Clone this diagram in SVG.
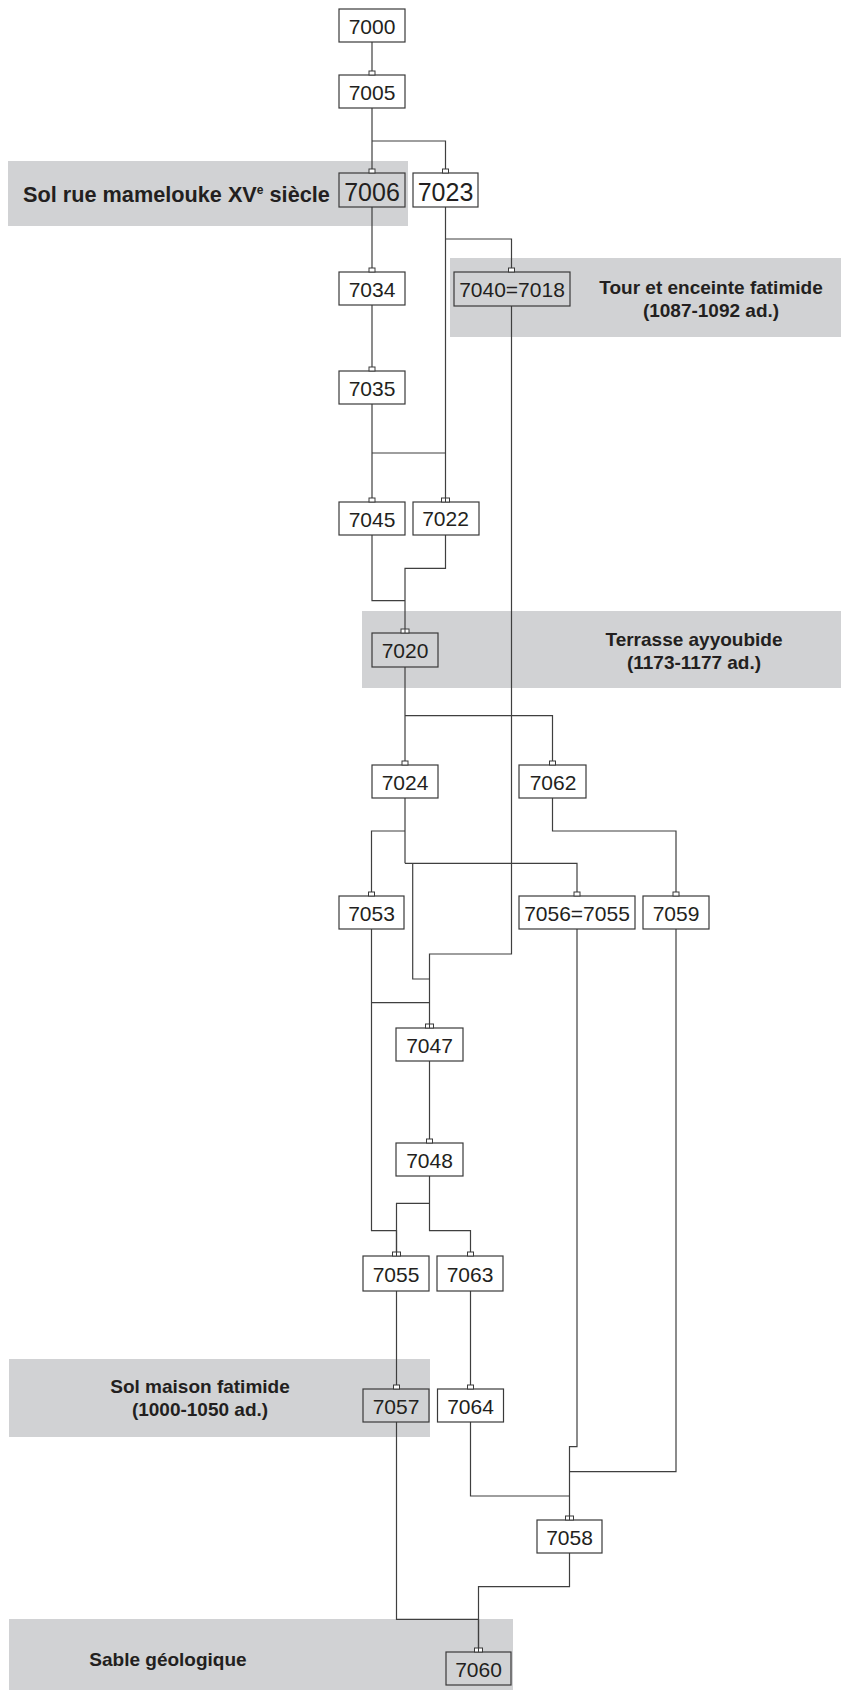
<svg xmlns="http://www.w3.org/2000/svg" width="841" height="1690" viewBox="0 0 841 1690">
<style>
.band{fill:#d1d2d4;stroke:none}
.lbl{font-family:"Liberation Sans",Arial,sans-serif;font-weight:bold;font-size:19px;fill:#231f20;text-anchor:middle}
.box{fill:#ffffff;stroke:#3a3a3a;stroke-width:1.2}
.gbox{fill:#d1d2d4;stroke:#3a3a3a;stroke-width:1.2}
.t{font-family:"Liberation Sans",Arial,sans-serif;font-size:21px;fill:#231f20;text-anchor:middle}
.tb{font-family:"Liberation Sans",Arial,sans-serif;font-size:25px;fill:#231f20;text-anchor:middle}
.c{fill:none;stroke:#3f3f3f;stroke-width:1.2}
.m{fill:#ffffff;stroke:#3a3a3a;stroke-width:1}
</style>
<defs>
<g id="mk"><rect class="m" x="-3" y="-4" width="6" height="4"/></g>
<g id="mk2"><rect class="m" x="-4" y="-4" width="8" height="4"/><line x1="0" y1="-4" x2="0" y2="0" stroke="#3a3a3a" stroke-width="1"/></g>
</defs>

<g id="bands">
<rect class="band" x="8" y="161" width="400" height="65"/>
<rect class="band" x="450" y="258" width="391" height="79"/>
<rect class="band" x="362" y="611" width="479" height="77"/>
<rect class="band" x="9" y="1359" width="421" height="78"/>
<rect class="band" x="9" y="1619" width="504" height="71"/>
</g>

<g id="labels">
<text x="23" y="202" style="font-family:'Liberation Sans',Arial,sans-serif;font-weight:bold;font-size:21.7px;fill:#231f20">Sol rue mamelouke XV<tspan font-size="12" dy="-8">e</tspan><tspan dy="8"> siècle</tspan></text>
<text class="lbl" x="711" y="294">Tour et enceinte fatimide</text>
<text class="lbl" x="711" y="317">(1087-1092 ad.)</text>
<text class="lbl" x="694" y="646">Terrasse ayyoubide</text>
<text class="lbl" x="694" y="669">(1173-1177 ad.)</text>
<text class="lbl" x="200" y="1393">Sol maison fatimide</text>
<text class="lbl" x="200" y="1416">(1000-1050 ad.)</text>
<text class="lbl" x="168" y="1666">Sable géologique</text>
</g>

<g id="connectors">
<path class="c" d="M372 42V71"/>
<path class="c" d="M372 108V169M372 141H445.5V169"/>
<path class="c" d="M372 207V268"/>
<path class="c" d="M445.5 207V498M445.5 239H511.5V268"/>
<path class="c" d="M372 305V367"/>
<path class="c" d="M372 404V498M372 453H445.5"/>
<path class="c" d="M511.5 306V954H429.5V1024"/>
<path class="c" d="M372 535V600.7H405"/>
<path class="c" d="M445.5 535V568.3H405V629"/>
<path class="c" d="M405 667V761M405 715.7H552.5V761"/>
<path class="c" d="M405 798V863.3M405 831H371.5V892M405 863.3H577V892M412.7 863.3V979H429.5"/>
<path class="c" d="M552.5 798V831H676V892"/>
<path class="c" d="M371.5 929V1230.7H396.5V1252M371.5 1002.7H429.5"/>
<path class="c" d="M429.5 1061V1139"/>
<path class="c" d="M429.5 1176V1230.7H470.5V1252M429.5 1203.3H396.5V1252"/>
<path class="c" d="M396.5 1291V1385"/>
<path class="c" d="M470.5 1291V1385"/>
<path class="c" d="M396.5 1422V1619.3H478.5V1648"/>
<path class="c" d="M470.5 1422V1496H569.5"/>
<path class="c" d="M577 929V1446.7H569.5V1516"/>
<path class="c" d="M676 929V1471.7H569.5"/>
<path class="c" d="M569.5 1553V1586.7H478.5V1648"/>
</g>

<g id="n7000"><rect class="box" x="339" y="9" width="66" height="33"/><text class="t" x="372" y="34">7000</text></g>
<g id="n7005"><rect class="box" x="339" y="75" width="66" height="33"/><use href="#mk" x="372" y="75"/><text class="t" x="372" y="100">7005</text></g>
<g id="n7006"><rect class="gbox" x="339" y="173" width="66" height="34"/><use href="#mk" x="372" y="173"/><text class="tb" x="372" y="201">7006</text></g>
<g id="n7023"><rect class="box" x="413" y="173" width="65" height="34"/><use href="#mk" x="445.5" y="173"/><text class="tb" x="445.5" y="201">7023</text></g>
<g id="n7034"><rect class="box" x="339" y="272" width="66" height="33"/><use href="#mk" x="372" y="272"/><text class="t" x="372" y="297">7034</text></g>
<g id="n7040"><rect class="gbox" x="454" y="272" width="116" height="34"/><use href="#mk" x="511.5" y="272"/><text class="t" x="512" y="297">7040=7018</text></g>
<g id="n7035"><rect class="box" x="339" y="371" width="66" height="33"/><use href="#mk" x="372" y="371"/><text class="t" x="372" y="396">7035</text></g>
<g id="n7045"><rect class="box" x="339" y="502" width="66" height="33"/><use href="#mk" x="372" y="502"/><text class="t" x="372" y="527">7045</text></g>
<g id="n7022"><rect class="box" x="413" y="502" width="66" height="33"/><use href="#mk2" x="445.5" y="502"/><text class="t" x="445.5" y="526">7022</text></g>
<g id="n7020"><rect class="gbox" x="372" y="633" width="66" height="34"/><use href="#mk2" x="405" y="633"/><text class="t" x="405" y="658">7020</text></g>
<g id="n7024"><rect class="box" x="372" y="765" width="66" height="33"/><use href="#mk" x="405" y="765"/><text class="t" x="405" y="790">7024</text></g>
<g id="n7062"><rect class="box" x="519" y="765" width="67" height="33"/><use href="#mk" x="552.5" y="765"/><text class="t" x="553" y="790">7062</text></g>
<g id="n7053"><rect class="box" x="339" y="896" width="65" height="33"/><use href="#mk" x="371.5" y="896"/><text class="t" x="371.5" y="921">7053</text></g>
<g id="n7056"><rect class="box" x="519" y="896" width="116" height="33"/><use href="#mk" x="577" y="896"/><text class="t" x="577" y="921">7056=7055</text></g>
<g id="n7059"><rect class="box" x="643" y="896" width="66" height="33"/><use href="#mk" x="676" y="896"/><text class="t" x="676" y="921">7059</text></g>
<g id="n7047"><rect class="box" x="396" y="1028" width="67" height="33"/><use href="#mk2" x="429.5" y="1028"/><text class="t" x="429.5" y="1053">7047</text></g>
<g id="n7048"><rect class="box" x="396" y="1143" width="67" height="33"/><use href="#mk" x="429.5" y="1143"/><text class="t" x="429.5" y="1168">7048</text></g>
<g id="n7055"><rect class="box" x="363" y="1256" width="66" height="35"/><use href="#mk2" x="396.5" y="1256"/><text class="t" x="396" y="1282">7055</text></g>
<g id="n7063"><rect class="box" x="437" y="1256" width="66" height="35"/><use href="#mk" x="470.5" y="1256"/><text class="t" x="470" y="1282">7063</text></g>
<g id="n7057"><rect class="gbox" x="363" y="1389" width="66" height="33"/><use href="#mk" x="396.5" y="1389"/><text class="t" x="396" y="1414">7057</text></g>
<g id="n7064"><rect class="box" x="437.5" y="1389" width="66" height="33"/><use href="#mk" x="470.5" y="1389"/><text class="t" x="470.5" y="1414">7064</text></g>
<g id="n7058"><rect class="box" x="537" y="1520" width="65" height="33"/><use href="#mk2" x="569.5" y="1520"/><text class="t" x="569.5" y="1545">7058</text></g>
<g id="n7060"><rect class="gbox" x="446" y="1652" width="65" height="33"/><use href="#mk2" x="478.5" y="1652"/><text class="t" x="478.5" y="1677">7060</text></g>
</svg>
